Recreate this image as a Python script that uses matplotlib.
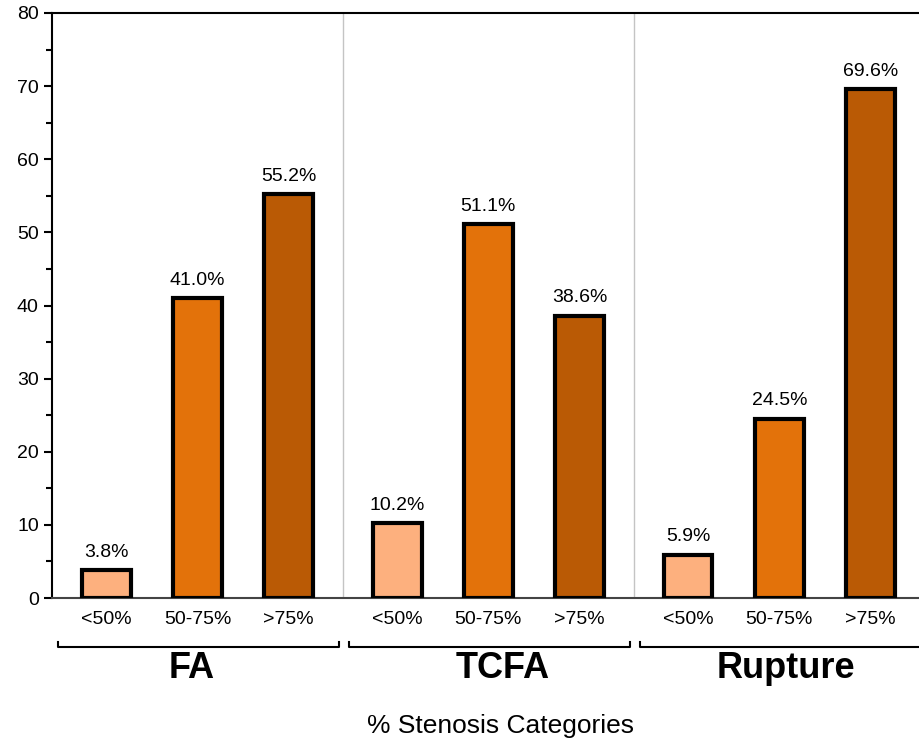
import matplotlib
matplotlib.use("Agg")
import matplotlib.pyplot as plt
from matplotlib.transforms import blended_transform_factory
from matplotlib.ticker import MultipleLocator

plt.rcParams['font.family'] = ['Liberation Sans', 'DejaVu Sans']

groups = ["FA", "TCFA", "Rupture"]
categories = ["<50%", "50-75%", ">75%"]
values = {
    "FA": [3.8, 41.0, 55.2],
    "TCFA": [10.2, 51.1, 38.6],
    "Rupture": [5.9, 24.5, 69.6],
}
colors = ["#FDB07E", "#E3720A", "#BA5A05"]
xlabel = "% Stenosis Categories"

fig = plt.figure(figsize=(9.19, 7.42), dpi=100)
ax = fig.add_axes([0.0566, 0.194, 0.9434, 0.7885])

offsets = [-0.94, 0.0, 0.94]
tick_pos, tick_lab = [], []
for g, name in enumerate(groups):
    center = g * 3 + 1.5
    for k, (val, col) in enumerate(zip(values[name], colors)):
        x = center + offsets[k]
        ax.bar(x, val, width=0.5, color=col, edgecolor="black", linewidth=3, zorder=3)
        ax.text(x, val + 1.3, f"{val:.1f}%", ha="center", va="bottom", fontsize=14)
        tick_pos.append(x)
        tick_lab.append(categories[k])

ax.set_xlim(0, 8.94)
ax.set_ylim(0, 80)

# group separators
for s in [3, 6]:
    ax.axvline(s, color="#c4c4c4", linewidth=1, zorder=1)

ax.set_xticks(tick_pos)
ax.set_xticklabels(tick_lab, fontsize=14)
ax.tick_params(axis="x", length=0, pad=9)
ax.yaxis.set_major_locator(MultipleLocator(10))
ax.yaxis.set_minor_locator(MultipleLocator(5))
ax.tick_params(axis="y", which="major", length=6, width=1.5, labelsize=14, direction="out")
ax.tick_params(axis="y", which="minor", length=4, width=1.5, direction="out")

ax.spines["right"].set_visible(False)
ax.spines["left"].set_linewidth(1.5)
ax.spines["top"].set_linewidth(1.5)
ax.spines["bottom"].set_color("#444444")
ax.spines["bottom"].set_linewidth(1.5)

# brackets and group names below the axis
trans = blended_transform_factory(ax.transData, ax.transAxes)
yb = -0.0838
yt = -0.0752
name_x = [1.44, 4.65, 7.57]
for g, name in enumerate(groups):
    x0 = g * 3 + 0.06
    x1 = g * 3 + 2.96
    ax.plot([x0, x0, x1, x1], [yt, yb, yb, yt], color="black", linewidth=1.5,
            transform=trans, clip_on=False)
    ax.text(name_x[g], -0.121, name, transform=trans, ha="center", va="center",
            fontsize=26, fontweight="bold")

fig.text(0.545, 0.022, xlabel, ha="center", va="center", fontsize=19)

fig.savefig("out.png", dpi=100)
